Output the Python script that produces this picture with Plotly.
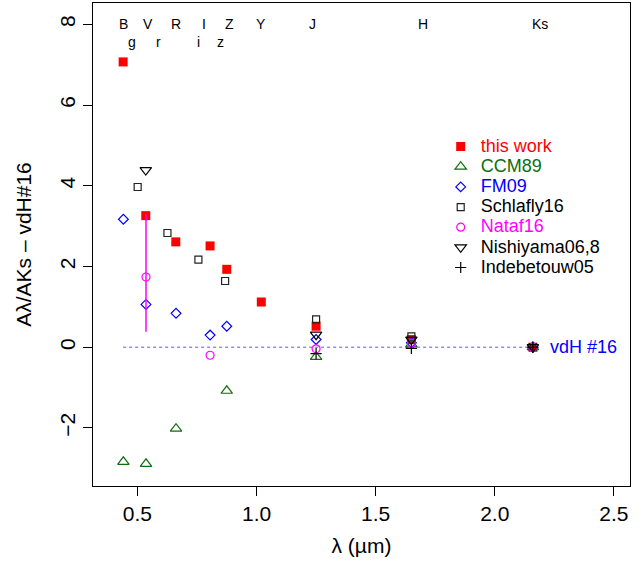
import plotly.graph_objects as go

# ---------------- data ----------------
this_work_wl = [0.44, 0.535, 0.661, 0.805, 0.875, 1.02, 1.25, 1.65, 2.16]
this_work_v = [7.07, 3.26, 2.61, 2.51, 1.93, 1.12, 0.52, 0.19, 0.0]

ccm89_wl = [0.441, 0.536, 0.662, 0.875, 1.25, 1.65, 2.16]
ccm89_v = [-2.84, -2.89, -2.02, -1.08, -0.24, 0.07, 0.0]

fm09_wl = [0.441, 0.536, 0.662, 0.805, 0.875, 1.25, 1.65, 2.16]
fm09_v = [3.17, 1.06, 0.84, 0.30, 0.52, 0.19, 0.11, 0.0]

schlafly_wl = [0.501, 0.626, 0.756, 0.868, 1.25, 1.65, 2.16]
schlafly_v = [3.97, 2.83, 2.17, 1.64, 0.69, 0.27, 0.0]

nataf_wl = [0.536, 0.805, 1.25, 1.65, 2.16]
nataf_v = [1.74, -0.20, -0.04, 0.10, 0.0]
nataf_err_plus = [1.56, 0, 0, 0, 0]
nataf_err_minus = [1.36, 0, 0, 0, 0]

nishiyama_wl = [0.535, 1.25, 1.65, 2.16]
nishiyama_v = [4.39, 0.31, 0.19, 0.0]

indebetouw_wl = [1.25, 1.65, 2.16]
indebetouw_v = [-0.16, -0.03, 0.0]

band_row1 = ["B", "V", "R", "I", "Z", "Y", "J", "H", "Ks"]
band_row1_wl = [0.44, 0.545, 0.66, 0.78, 0.885, 1.02, 1.235, 1.70, 2.19]
band_row2 = ["g", "r", "i", "z"]
band_row2_wl = [0.476, 0.588, 0.756, 0.847]
band_row1_y = 8.0
band_row2_y = 7.57

ref_label = "vdH #16"
ref_label_wl = 2.224

x_ticks = [0.5, 1.0, 1.5, 2.0, 2.5]
x_tick_text = ["0.5", "1.0", "1.5", "2.0", "2.5"]
y_ticks = [-2, 0, 2, 4, 6, 8]

# ---------------- styling ----------------
FONT = "Liberation Sans, Arial, Helvetica, sans-serif"
RED = "#ff0000"
GREEN = "#0e6e0e"
BLUE = "#0000ff"
MAGENTA = "#ff00ff"
BLACK = "#000000"


def leg(name, color):
    return f"<span style='color:{color};font-size:18px'>{name}</span>"


fig = go.Figure()

# reference zero line spanning the data
all_wl = this_work_wl + ccm89_wl + fm09_wl + schlafly_wl + nataf_wl
fig.add_shape(type="line", xref="x", yref="y",
              x0=min(all_wl), x1=max(all_wl), y0=0, y1=0,
              line=dict(color="#5a5ae0", width=1, dash="dot"), layer="below")

fig.add_trace(go.Scatter(
    x=this_work_wl, y=this_work_v, mode="markers", name=leg("this work", RED),
    marker=dict(symbol="square", size=9, color=RED, line=dict(width=0))))

fig.add_trace(go.Scatter(
    x=ccm89_wl, y=ccm89_v, mode="markers", name=leg("CCM89", GREEN),
    marker=dict(symbol="triangle-up-open", size=10, color=GREEN,
                line=dict(width=1.2, color=GREEN))))

fig.add_trace(go.Scatter(
    x=fm09_wl, y=fm09_v, mode="markers", name=leg("FM09", BLUE),
    marker=dict(symbol="diamond-open", size=7.5, color=BLUE,
                line=dict(width=1.2, color=BLUE))))

fig.add_trace(go.Scatter(
    x=schlafly_wl, y=schlafly_v, mode="markers", name=leg("Schlafly16", BLACK),
    marker=dict(symbol="square-open", size=7, color="#222222",
                line=dict(width=1.2, color="#222222"))))

fig.add_trace(go.Scatter(
    x=nataf_wl, y=nataf_v, mode="markers", name=leg("Nataf16", MAGENTA),
    marker=dict(symbol="circle-open", size=8, color=MAGENTA,
                line=dict(width=1.2, color=MAGENTA)),
    error_y=dict(type="data", symmetric=False, array=nataf_err_plus,
                 arrayminus=nataf_err_minus, color=MAGENTA, thickness=1.5,
                 width=0)))

fig.add_trace(go.Scatter(
    x=nishiyama_wl, y=nishiyama_v, mode="markers", name=leg("Nishiyama06,8", BLACK),
    marker=dict(symbol="triangle-down-open", size=10, color=BLACK,
                line=dict(width=1.2, color=BLACK))))

fig.add_trace(go.Scatter(
    x=indebetouw_wl, y=indebetouw_v, mode="markers", name=leg("Indebetouw05", BLACK),
    marker=dict(symbol="cross-thin-open", size=8, color=BLACK,
                line=dict(width=1.2, color=BLACK))))

annotations = []
for name, wl in zip(band_row1, band_row1_wl):
    annotations.append(dict(x=wl, y=band_row1_y, xref="x", yref="y", text=name,
                            showarrow=False, font=dict(size=14, color=BLACK, family=FONT)))
for name, wl in zip(band_row2, band_row2_wl):
    annotations.append(dict(x=wl, y=band_row2_y, xref="x", yref="y", text=name,
                            showarrow=False, font=dict(size=14, color=BLACK, family=FONT)))
annotations.append(dict(x=ref_label_wl, y=0, xref="x", yref="y", text=ref_label,
                        xanchor="left", showarrow=False,
                        font=dict(size=18, color=BLUE, family=FONT)))

fig.update_layout(
    width=644, height=563,
    margin=dict(l=93, r=14, t=3, b=77, pad=0),
    paper_bgcolor="white", plot_bgcolor="white",
    font=dict(family=FONT, size=21, color=BLACK),
    showlegend=True,
    legend=dict(x=0.6475, y=0.734, xanchor="left", yanchor="top",
                bgcolor="rgba(0,0,0,0)", borderwidth=0,
                font=dict(size=13.2, family=FONT), itemwidth=30,
                tracegroupgap=0),
    annotations=annotations,
)

fig.update_xaxes(range=[0.3135, 2.5677], tickvals=x_ticks, ticktext=x_tick_text,
                 showgrid=False, zeroline=False, showline=True, mirror=True,
                 linecolor=BLACK, linewidth=1, ticks="outside", ticklen=9,
                 tickcolor=BLACK, tickfont=dict(size=21),
                 title=dict(text="λ (µm)", font=dict(size=21), standoff=14))
fig.update_yaxes(range=[-3.44, 8.53], tickvals=y_ticks,
                 showgrid=False, zeroline=False, showline=True, mirror=True,
                 linecolor=BLACK, linewidth=1, ticks="outside", ticklen=9,
                 tickcolor=BLACK, tickangle=-90, tickfont=dict(size=21),
                 title=dict(text="Aλ/AKs – vdH#16", font=dict(size=21), standoff=18))

fig.write_html("out.html")
